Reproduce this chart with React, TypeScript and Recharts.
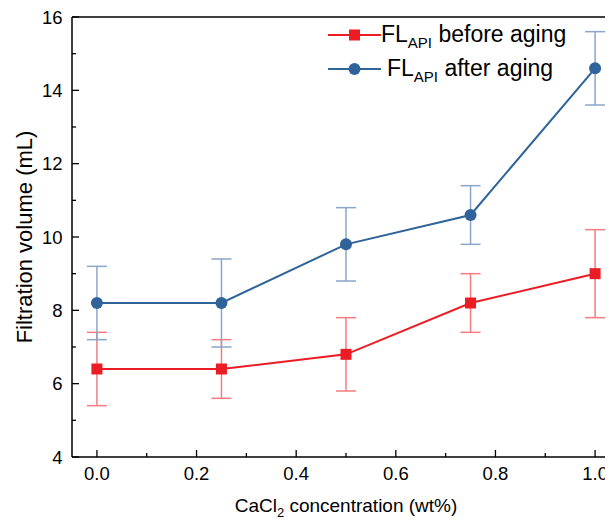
import React from 'react';
import { ComposedChart, Line, XAxis, YAxis, ErrorBar, ReferenceLine, Label } from 'recharts';

const concentrations = [0, 0.25, 0.5, 0.75, 1.0];
const beforeAging = [6.4, 6.4, 6.8, 8.2, 9.0];
const beforeAgingErr = [1.0, 0.8, 1.0, 0.8, 1.2];
const afterAging = [8.2, 8.2, 9.8, 10.6, 14.6];
const afterAgingErr = [1.0, 1.2, 1.0, 0.8, 1.0];

const xTicks = [0, 0.1, 0.2, 0.3, 0.4, 0.5, 0.6, 0.7, 0.8, 0.9, 1.0];
const xMajorTicks = [0, 0.2, 0.4, 0.6, 0.8, 1.0];
const yTicks = [4, 5, 6, 7, 8, 9, 10, 11, 12, 13, 14, 15, 16];
const yMajorTicks = [4, 6, 8, 10, 12, 14, 16];

const RED = '#ec1c24';
const RED_ERR = '#f47c80';
const BLUE = '#2f6399';
const BLUE_ERR = '#8ba6c8';
const FONT = '"Liberation Sans", Arial, sans-serif';

const data = concentrations.map((c, i) => ({
  x: c,
  before: beforeAging[i],
  beforeErr: beforeAgingErr[i],
  after: afterAging[i],
  afterErr: afterAgingErr[i],
}));

const X_MARGIN = 2;
const Y_MARGIN = 2;

const isMajor = (list: number[], v: number) => list.some((m) => Math.abs(m - v) < 1e-9);

const XTick = (props: any) => {
  const { x, y, payload } = props;
  const v = payload.value as number;
  const major = isMajor(xMajorTicks, v);
  const axisY = y - X_MARGIN;
  return (
    <g>
      <line x1={x} x2={x} y1={axisY} y2={axisY - (major ? 7 : 4)} stroke="#000" strokeWidth={1.3} />
      {major && (
        <text x={x} y={axisY + 10} dy="0.71em" textAnchor="middle" fontSize={18.5} fontFamily={FONT} fill="#000">
          {v.toFixed(1)}
        </text>
      )}
    </g>
  );
};

const YTick = (props: any) => {
  const { x, y, payload } = props;
  const v = payload.value as number;
  const major = isMajor(yMajorTicks, v);
  const axisX = x + Y_MARGIN;
  return (
    <g>
      <line x1={axisX} x2={axisX + (major ? 7 : 4)} y1={y} y2={y} stroke="#000" strokeWidth={1.3} />
      {major && (
        <text x={axisX - 9.5} y={y} dy="0.36em" textAnchor="end" fontSize={18.5} fontFamily={FONT} fill="#000">
          {v}
        </text>
      )}
    </g>
  );
};

const RedSquare = (props: any) => {
  const { cx, cy, index } = props;
  return <rect key={`rs-${index}`} x={cx - 5.5} y={cy - 5.5} width={11} height={11} fill={RED} />;
};

const BlueCircle = (props: any) => {
  const { cx, cy, index } = props;
  return <circle key={`bc-${index}`} cx={cx} cy={cy} r={6} fill={BLUE} />;
};

const LegendBox = () => {
  const row = (color: string, marker: 'square' | 'circle', text: string, textOffset: number) => (
    <div style={{ display: 'flex', alignItems: 'center', height: 34 }}>
      <svg width={53} height={20} style={{ display: 'block' }}>
        <line x1={0} x2={53} y1={10} y2={10} stroke={color} strokeWidth={2} />
        {marker === 'square' ? (
          <rect x={21} y={4.5} width={11} height={11} fill={color} />
        ) : (
          <circle cx={26.5} cy={10} r={6} fill={color} />
        )}
      </svg>
      <span style={{ marginLeft: textOffset, fontSize: 23, fontFamily: FONT, color: '#000', whiteSpace: 'nowrap', lineHeight: '26px' }}>
        FL<sub style={{ fontSize: 15, verticalAlign: 'baseline', position: 'relative', top: 6 }}>API</sub> {text}
      </span>
    </div>
  );
  return (
    <div style={{ position: 'absolute', left: 320, top: 10 }}>
      {row(RED, 'square', 'before aging', 0)}
      {row(BLUE, 'circle', 'after aging', 6)}
    </div>
  );
};

const XTitle = (props: any) => {
  const { viewBox } = props;
  const cx = viewBox.x + viewBox.width / 2;
  const cy = viewBox.y + 48;
  return (
    <text x={cx} y={cy} dy="0.35em" textAnchor="middle" fontSize={19} fontFamily={FONT} fill="#000">
      CaCl
      <tspan fontSize={13} dy="5">2</tspan>
      <tspan dy="-5"> concentration (wt%)</tspan>
    </text>
  );
};

const YTitle = (props: any) => {
  const { viewBox } = props;
  const cx = viewBox.x + 12;
  const cy = viewBox.y + viewBox.height / 2;
  return (
    <text x={cx} y={cy} dy="0.35em" textAnchor="middle" fontSize={22} fontFamily={FONT} fill="#000" transform={`rotate(-90, ${cx}, ${cy})`}>
      Filtration volume (mL)
    </text>
  );
};

export default function App() {
  return (
    <div style={{ width: 605, height: 513, overflow: 'hidden', position: 'relative' }}>
      <ComposedChart width={620} height={513} data={data} margin={{ top: 9, right: 8, bottom: 24, left: 4 }}>
        <XAxis
          dataKey="x"
          type="number"
          domain={[-0.05, 1.05]}
          ticks={xTicks}
          interval={0}
          tickSize={0}
          tickMargin={X_MARGIN}
          tick={<XTick />}
          axisLine={{ stroke: '#000', strokeWidth: 1.5 }}
          height={40}
          allowDataOverflow
        >
          <Label content={<XTitle />} />
        </XAxis>
        <YAxis
          type="number"
          domain={[4, 16]}
          ticks={yTicks}
          interval={0}
          tickSize={0}
          tickMargin={Y_MARGIN}
          tick={<YTick />}
          axisLine={{ stroke: '#000', strokeWidth: 1.5 }}
          width={60}
          allowDataOverflow
        >
          <Label content={<YTitle />} />
        </YAxis>
        <ReferenceLine y={16} stroke="#000" strokeWidth={1.5} ifOverflow="visible" />
        <Line
          dataKey="before"
          stroke={RED}
          strokeWidth={2}
          dot={<RedSquare />}
          activeDot={false}
          isAnimationActive={false}
        >
          <ErrorBar dataKey="beforeErr" width={10} stroke={RED_ERR} strokeWidth={1.5} direction="y" />
        </Line>
        <Line
          dataKey="after"
          stroke={BLUE}
          strokeWidth={2}
          dot={<BlueCircle />}
          activeDot={false}
          isAnimationActive={false}
        >
          <ErrorBar dataKey="afterErr" width={10} stroke={BLUE_ERR} strokeWidth={1.5} direction="y" />
        </Line>
      </ComposedChart>
      <LegendBox />
    </div>
  );
}
